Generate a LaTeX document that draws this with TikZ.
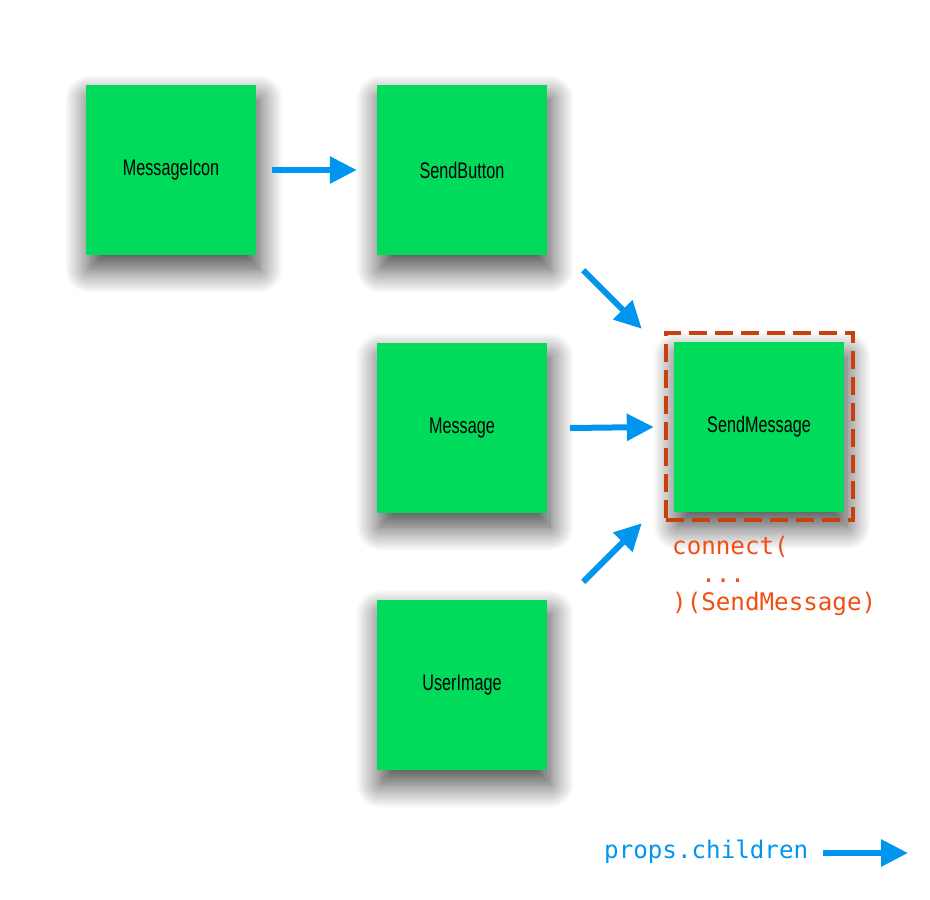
\documentclass[tikz,border=0pt]{standalone}
\usepackage{fontspec}
\setmainfont{Liberation Sans}
\newfontfamily\labelfont[FakeStretch=0.72]{Liberation Sans}
\setmonofont{DejaVu Sans Mono}
\usetikzlibrary{arrows.meta,shadows.blur}
\definecolor{boxgreen}{HTML}{00DB5C}
\definecolor{arrblue}{HTML}{0096F0}
\definecolor{codeorange}{HTML}{F24E12}
\definecolor{dashred}{HTML}{C8400C}
\tikzset{
  comp/.style={fill=boxgreen, minimum size=170pt, inner sep=0pt,
    font=\labelfont\fontsize{22.5}{26}\selectfont, text=black,
    blur shadow={shadow xshift=3pt, shadow yshift=-14pt, shadow blur radius=24pt, shadow blur steps=20, shadow opacity=75}},
  arr/.style={draw=arrblue, line width=6pt, -{Triangle[length=27pt,width=26pt]}},
  code/.style={text=codeorange, font=\ttfamily\fontsize{24.2}{28}\selectfont, inner sep=0pt, align=left},
}
\begin{document}
\begin{tikzpicture}[x=1pt,y=-1pt]
\useasboundingbox (0,0) rectangle (930,900);
\node[comp] (mi) at (171,170) {MessageIcon};
\node[comp] (sb) at (462,170) {SendButton};
\node[comp] (msg) at (462,428) {Message};
\node[comp] (ui) at (462,685) {UserImage};
\node[comp] (sm) at (759,427) {SendMessage};
\node[draw=dashred, line width=4pt, dash pattern=on 18pt off 8pt, minimum size=187pt, inner sep=0pt] (smbox) at (759.5,426.5) {};
\draw[arr] ([xshift=16pt]mi.east) -- ([xshift=-20pt]sb.west);
\draw[arr] ([xshift=36pt,yshift=-15pt]sb.south east) -- ([xshift=-32pt,yshift=13pt]sm.north west);
\draw[arr] ([xshift=23pt]msg.east) -- ([xshift=-20pt]sm.west);
\draw[arr] ([xshift=36pt,yshift=18pt]ui.north east) -- ([xshift=-32pt,yshift=-11pt]sm.south west);
\node[code, anchor=north west] (cc) at (672,536) {connect(\\\phantom{co}...\\)(SendMessage)};
\node[text=arrblue, font=\ttfamily\fontsize{24.2}{28}\selectfont, inner sep=0pt, anchor=west] (leg) at (604,852) {props.children};
\coordinate (legtip) at (908,853);
\draw[arr] ([xshift=15pt,yshift=-1pt]leg.east) -- (legtip);
\end{tikzpicture}
\end{document}
